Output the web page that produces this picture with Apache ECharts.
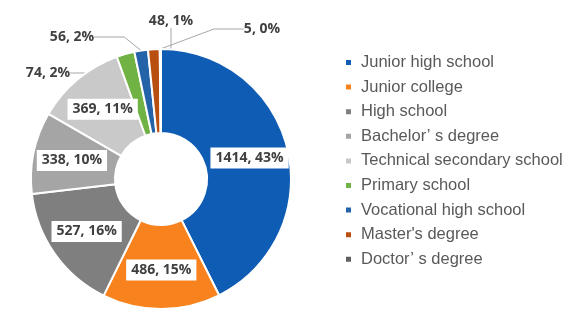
<!DOCTYPE html>
<html>
<head>
<meta charset="utf-8">
<script src="https://cdn.jsdelivr.net/npm/echarts@6/dist/echarts.min.js"></script>
<style>
  html, body { margin: 0; padding: 0; background: #fff; }
  #chart { width: 571px; height: 309px; }
</style>
</head>
<body>
<div id="chart"></div>
<script>
// education levels, clockwise from 12 o'clock
const categories = [
  'Junior high school',
  'Junior college',
  'High school',
  'Bachelor’ s degree',
  'Technical secondary school',
  'Primary school',
  'Vocational high school',
  "Master's degree",
  'Doctor’ s degree'
];
const counts = [1414, 486, 527, 338, 369, 74, 56, 48, 5];
const colors = ['#0f5cb5', '#f7821e', '#7f7f7f', '#a5a5a5', '#c9c9c9', '#70b244', '#2563a8', '#b84f10', '#5f5f5f'];

// small slices get their labels pulled outside, like the original
const outsideLabels = {
  5: [48, 73],
  6: [72, 37],
  7: [171, 21],
  8: [262, 29]
};

const chart = echarts.init(document.getElementById('chart'));

const pieData = categories.map((name, i) => {
  const item = { name: name, value: counts[i], itemStyle: { color: colors[i] } };
  if (outsideLabels[i]) {
    item.label = { position: 'outside', backgroundColor: 'transparent', padding: 0 };
    item.labelLine = { show: true };
  }
  return item;
});

chart.setOption({
  animation: false,
  legend: {
    orient: 'vertical',
    left: 344,
    top: 54,
    padding: 0,
    itemWidth: 7,
    itemHeight: 7,
    itemGap: 7.6,
    icon: 'rect',
    textStyle: {
      fontFamily: 'Liberation Sans',
      fontSize: 16.5,
      lineHeight: 17,
      color: '#595959',
      padding: [0, 0, 0, 4]
    },
    data: categories
  },
  series: [
    {
      type: 'pie',
      center: [161, 179],
      radius: [46, 130],
      startAngle: 90,
      avoidLabelOverlap: false,
      itemStyle: { borderColor: '#fff', borderWidth: 2 },
      label: {
        position: 'inside',
        formatter: (p) => p.value + ', ' + Math.round(p.percent) + '%',
        fontFamily: 'Open Sans',
        fontWeight: 'bold',
        fontSize: 14,
        color: '#404040',
        backgroundColor: '#fff',
        padding: [4, 5, 3, 5]
      },
      labelLine: {
        show: false,
        lineStyle: { color: '#a6a6a6', width: 1 }
      },
      labelLayout: (p) => {
        const pos = outsideLabels[p.dataIndex];
        if (!pos) return {};
        return { x: pos[0], y: pos[1], align: 'center', verticalAlign: 'middle' };
      },
      emphasis: { disabled: true },
      data: pieData
    }
  ]
});
</script>
</body>
</html>
